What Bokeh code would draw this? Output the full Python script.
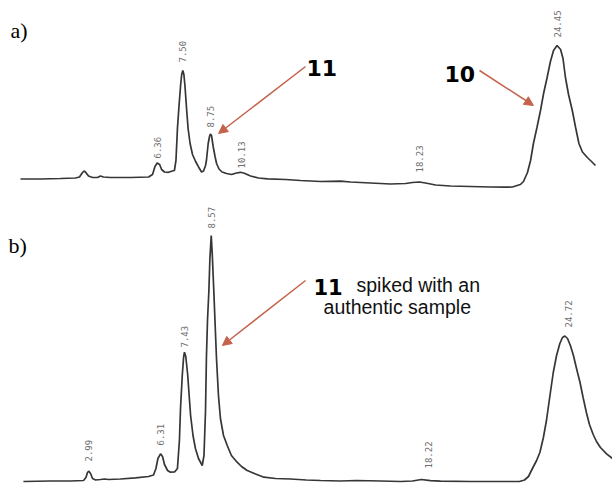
import math
from bokeh.plotting import figure
from bokeh.layouts import column
from bokeh.models import Range1d, Arrow, NormalHead
from bokeh.core.properties import value
from bokeh.embed import file_html
from bokeh.resources import INLINE

# ---------------- data: panel a (retention time, min / detector signal) -------------
time_a = [0.15, 1.06, 1.96, 2.64, 2.82, 2.96, 3.03, 3.09, 3.23, 3.41, 3.64, 3.77, 3.91,
          4.23, 5.13, 5.95, 6.13, 6.24, 6.34, 6.45, 6.54, 6.67, 6.85, 7.03, 7.12, 7.19,
          7.26, 7.33, 7.40, 7.45, 7.50, 7.55, 7.60, 7.67, 7.74, 7.83, 7.94, 8.08, 8.22,
          8.35, 8.44, 8.53, 8.57, 8.65, 8.71, 8.75, 8.80, 8.88, 8.96, 9.03, 9.14, 9.28,
          9.48, 9.71, 9.93, 10.11, 10.29, 10.57, 10.93, 11.34, 12.15, 12.83, 13.74, 14.64,
          15.10, 16.00, 16.91, 17.59, 17.90, 18.22, 18.49, 18.95, 19.62, 20.53, 21.44,
          22.12, 22.43, 22.57, 22.79, 22.93, 23.11, 23.25, 23.38, 23.54, 23.70, 23.84,
          24.00, 24.15, 24.29, 24.45, 24.61, 24.72, 24.83, 24.97, 25.14, 25.29, 25.44,
          25.60, 25.82, 26.01, 26.19]
signal_a = [11.5, 11.5, 12, 12.5, 13.5, 18, 19.5, 18.5, 14.5, 13, 13, 14.5, 13.5,
            13, 13, 13.5, 16, 24, 27.5, 26, 21, 18.5, 18.2, 19.5, 20, 30,
            63, 85, 105, 116, 120, 116, 104, 82, 62, 47, 36, 29, 23.3,
            18.5, 19.5, 25, 30, 47, 54, 56.5, 55, 43.5, 34, 27, 21.5, 18.5,
            17, 16, 17.5, 18.2, 17.2, 14.5, 12.5, 11.7, 11, 10, 9, 9.3,
            8.5, 7.5, 6.5, 7, 8, 8.5, 7.5, 5.5, 4.5, 4, 3.5,
            3.3, 3.5, 4.5, 6, 9, 18, 30, 47, 63, 80, 97,
            113, 129, 140, 145, 141, 132, 113, 96, 80, 63, 47,
            38.5, 33, 29, 25]

# ---------------- data: panel b ----------------
time_b = [0.01, 1.24, 2.16, 2.75, 2.86, 2.93, 2.99, 3.07, 3.16, 3.30, 3.52, 3.71, 3.89,
          4.43, 5.12, 5.71, 5.94, 6.05, 6.14, 6.26, 6.35, 6.44, 6.58, 6.71, 6.90, 7.03,
          7.12, 7.17, 7.25, 7.31, 7.35, 7.41, 7.50, 7.58, 7.63, 7.74, 7.85, 7.99, 8.16,
          8.24, 8.31, 8.35, 8.40, 8.46, 8.51, 8.57, 8.62, 8.69, 8.75, 8.81, 8.90, 8.99,
          9.13, 9.30, 9.49, 9.75, 9.95, 10.21, 10.59, 10.97, 11.50, 12.18, 12.91, 13.55,
          14.46, 15.19, 16.29, 17.20, 17.74, 18.15, 18.56, 19.02, 20.39, 21.75, 22.62,
          22.85, 23.03, 23.21, 23.40, 23.55, 23.71, 23.85, 23.99, 24.16, 24.31, 24.46,
          24.58, 24.69, 24.81, 24.94, 25.08, 25.22, 25.38, 25.52, 25.67, 25.81, 25.98,
          26.13, 26.31, 26.59, 26.86]
signal_b = [4, 4.5, 4.5, 5, 8, 13, 14.3, 12, 7, 5.5, 6, 6.5, 6,
            6.5, 7.7, 9, 10.5, 17, 27, 31.7, 29, 21, 15, 13.3, 13.5, 17,
            45, 77, 110, 128, 133.3, 129, 110, 85, 70, 50, 37, 27, 20,
            30, 75, 127, 165, 193.3, 227, 250, 230, 193.3, 160, 127, 90, 67,
            50, 40, 30, 23.3, 19, 15, 11.5, 8.3, 7, 6.5, 5.5, 5,
            4.5, 5, 4.5, 4, 4.5, 6, 4.8, 4.3, 4, 4, 4,
            5.5, 9, 17, 25, 33, 48, 65, 87, 113, 130, 142,
            148, 149.5, 147, 140, 130, 117, 103, 88, 73, 61, 51,
            44, 38, 31.7, 27]

# peak labels (retention times printed by the integrator)
labels_a = ["6.36", "7.50", "8.75", "10.13", "18.23", "24.45"]
label_time_a = [6.34, 7.50, 8.75, 10.18, 18.24, 24.47]
label_level_a = [32, 128, 63, 22, 18, 153]

labels_b = ["2.99", "6.31", "7.43", "8.57", "18.22", "24.72"]
label_time_b = [2.98, 6.26, 7.37, 8.57, 18.46, 24.84]
label_level_b = [24, 40, 138, 257, 17, 158]

TRACE = "#363636"
ARROW = "#c4624c"
LABEL = "#6e6e6e"
W = 612


def base_fig(h, xr, yr):
    p = figure(width=W, height=h, x_range=xr, y_range=yr,
               x_axis_type=None, y_axis_type=None,
               output_backend="svg", toolbar_location=None, min_border=0)
    p.outline_line_color = None
    p.background_fill_color = "white"
    p.border_fill_color = "white"
    return p


def arrow(x0, y0, x1, y1):
    return Arrow(x_start=x0, y_start=y0, x_end=x1, y_end=y1,
                 line_color=ARROW, line_width=1.5,
                 end=NormalHead(size=9, fill_color=ARROW, line_color=ARROW))


# ---------------- panel a ----------------
pa = base_fig(195, Range1d(-0.756, 26.961), Range1d(-5, 190))
pa.line(time_a, signal_a, line_color=TRACE, line_width=1.7)
pa.text(x=label_time_a, y=label_level_a, text=labels_a, angle=math.pi / 2,
        text_align="left", text_baseline="middle", text_color=LABEL,
        text_font=value("DejaVu Sans Mono"), text_font_size="9px")
pa.text(x=[-0.30], y=[160], text=["a)"], text_font=value("Liberation Serif"),
        text_font_size="22px", text_color="black", text_align="left",
        text_baseline="alphabetic")
pa.text(x=[13.10, 19.35], y=[123, 117], text=["11", "10"],
        text_font=value("DejaVu Sans"), text_font_style="bold",
        text_font_size="22px", text_color="black", text_align="left",
        text_baseline="alphabetic")
pa.add_layout(arrow(13.06, 124, 9.12, 57))
pa.add_layout(arrow(20.94, 120, 23.38, 85))

# ---------------- panel b ----------------
pb = base_fig(288, Range1d(-1.035, 26.860), Range1d(2, 290))
pb.line(time_b, signal_b, line_color=TRACE, line_width=1.7)
pb.text(x=label_time_b, y=label_level_b, text=labels_b, angle=math.pi / 2,
        text_align="left", text_baseline="middle", text_color=LABEL,
        text_font=value("DejaVu Sans Mono"), text_font_size="9px")
pb.text(x=[-0.67], y=[240], text=["b)"], text_font=value("Liberation Serif"),
        text_font_size="22px", text_color="black", text_align="left",
        text_baseline="alphabetic")
pb.text(x=[13.23], y=[199], text=["11"],
        text_font=value("DejaVu Sans"), text_font_style="bold",
        text_font_size="21px", text_color="black", text_align="left",
        text_baseline="alphabetic")
pb.text(x=[15.19, 13.69], y=[201, 179], text=["spiked with an", "authentic sample"],
        text_font=value("Liberation Sans"), text_font_size="19.5px",
        text_color="#111111", text_align="left", text_baseline="alphabetic")
pb.add_layout(arrow(12.87, 205, 9.08, 140))

layout = column(pa, pb, spacing=0)
open("out.html", "w").write(file_html(layout, INLINE))
